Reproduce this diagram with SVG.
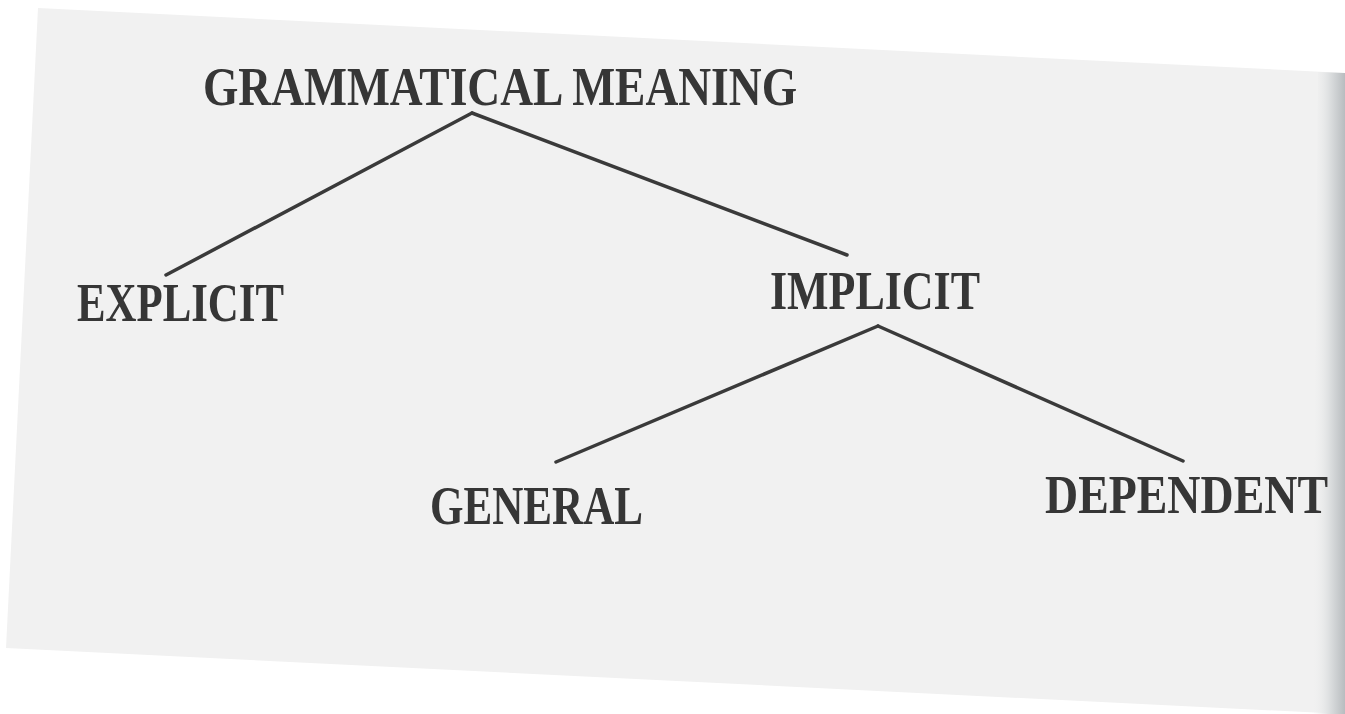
<svg xmlns="http://www.w3.org/2000/svg" width="1345" height="714" viewBox="0 0 1345 714">
  <defs>
    <linearGradient id="shade" x1="0" y1="0" x2="1" y2="0">
      <stop offset="0" stop-color="#f1f1f1" stop-opacity="0"/>
      <stop offset="0.5" stop-color="#dfe1e2"/>
      <stop offset="1" stop-color="#b8bcbf"/>
    </linearGradient>
    <style>
      .lbl { font-family: "Liberation Serif", "Times New Roman", serif; font-weight: bold; font-size: 55px; fill: #363636; }
      .edge { stroke: #3a3a3a; stroke-width: 3.5; stroke-linecap: round; fill: none; }
    </style>
  </defs>
  <rect x="0" y="0" width="1345" height="714" fill="#ffffff"/>
  <g id="paper">
    <polygon points="38,8 1345,73 1345,714 6,648" fill="#f1f1f1"/>
    <polygon points="1318,72 1345,73 1345,714 1312,714" fill="url(#shade)"/>
  </g>
  <g id="connectors">
    <line class="edge" x1="472" y1="113" x2="166" y2="275"/>
    <line class="edge" x1="472" y1="113" x2="847" y2="255"/>
    <line class="edge" x1="878" y1="326" x2="556" y2="462"/>
    <line class="edge" x1="878" y1="326" x2="1183" y2="461"/>
  </g>
  <g id="node-grammatical-meaning">
    <text class="lbl" x="203" y="105" textLength="594" lengthAdjust="spacingAndGlyphs">GRAMMATICAL MEANING</text>
  </g>
  <g id="node-explicit">
    <text class="lbl" x="77" y="321" textLength="207" lengthAdjust="spacingAndGlyphs">EXPLICIT</text>
  </g>
  <g id="node-implicit">
    <text class="lbl" x="770" y="309" textLength="210" lengthAdjust="spacingAndGlyphs">IMPLICIT</text>
  </g>
  <g id="node-general">
    <text class="lbl" x="430" y="524" textLength="213" lengthAdjust="spacingAndGlyphs">GENERAL</text>
  </g>
  <g id="node-dependent">
    <text class="lbl" x="1045" y="513" textLength="283" lengthAdjust="spacingAndGlyphs">DEPENDENT</text>
  </g>
</svg>
